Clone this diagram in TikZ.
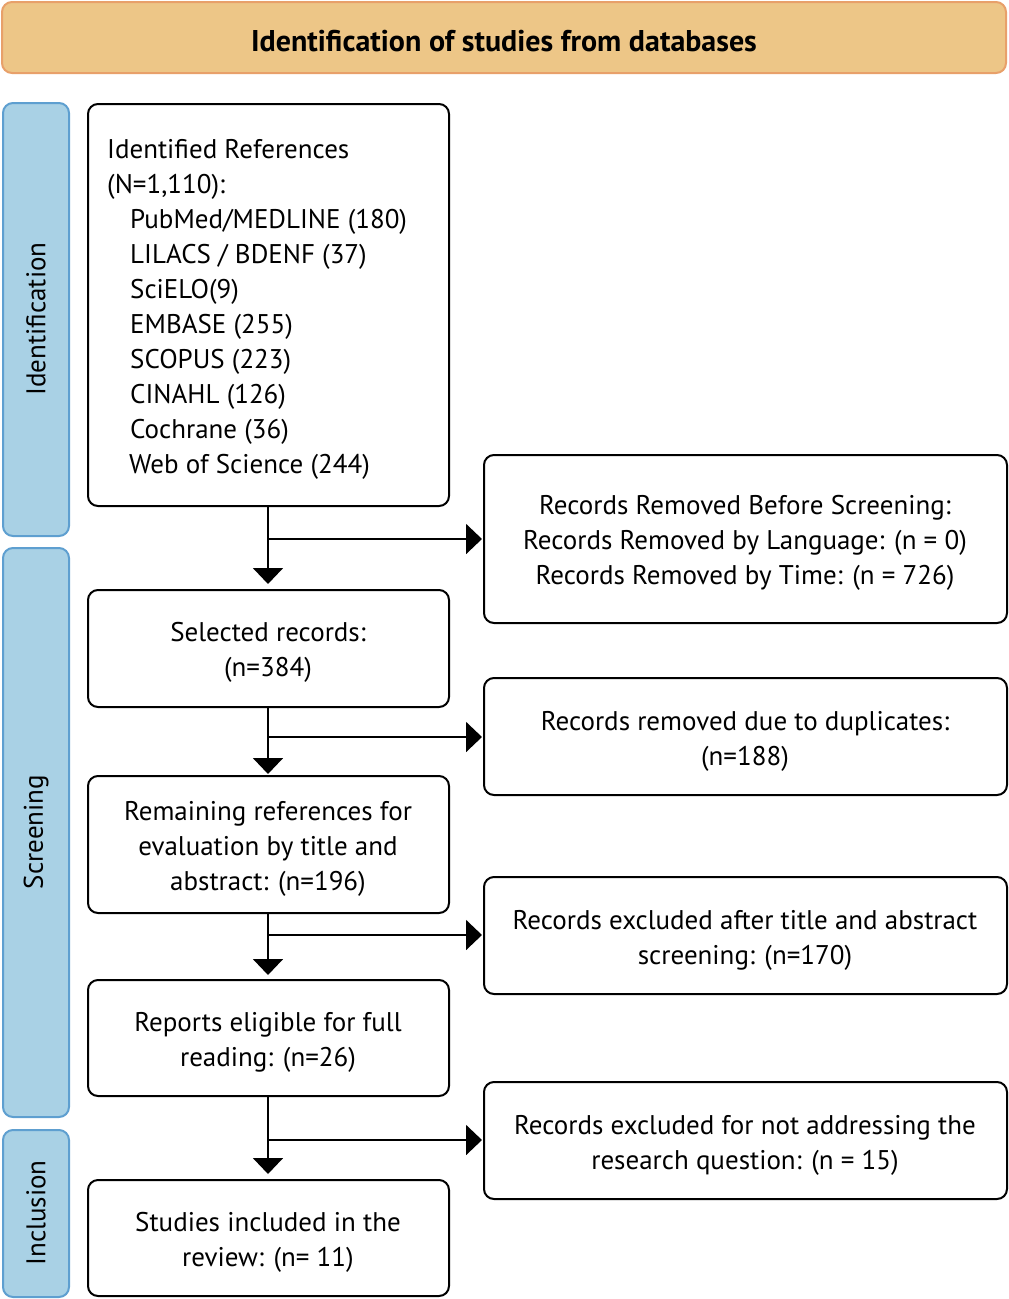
\documentclass[tikz,border=0pt]{standalone}
\usepackage{fontspec}
\setmainfont{PT Sans}
\usetikzlibrary{arrows.meta}
\definecolor{hdrfill}{HTML}{EDC687}
\definecolor{hdrline}{HTML}{E8A06A}
\definecolor{sidefill}{HTML}{A9D1E5}
\definecolor{sideline}{HTML}{5E9FD0}
\begin{document}
\begin{tikzpicture}[x=1pt,y=-1pt,
  every node/.style={font=\fontsize{27}{35}\selectfont},
  txt/.style={align=center,yshift=-4pt},
  hdr/.style={draw=hdrline,fill=hdrfill,line width=2pt,rounded corners=10pt},
  side/.style={draw=sideline,fill=sidefill,line width=2pt,rounded corners=10pt},
  boxs/.style={draw=black,line width=2pt,rounded corners=10pt},
  flow/.style={line width=2pt,-{Triangle[length=16pt,width=30pt]}}]
\useasboundingbox (0,0) rectangle (1009,1299);
% header
\draw[hdr] (2,2) rectangle (1006,73);
\node[font=\fontsize{30}{35}\selectfont\bfseries] (hdr) at (504,41) {Identification of studies from databases};
% side bars
\draw[side] (3,103) rectangle (69,536);
\node[rotate=90] (sid) at (36,319) {Identification};
\draw[side] (3,548) rectangle (69,1117);
\node[rotate=90] (sscr) at (36,832) {Screening};
\draw[side] (3,1130) rectangle (69,1297);
\node[rotate=90] (sinc) at (36,1213) {Inclusion};
% left boxes
\draw[boxs] (88,104) rectangle (449,506);
\node[anchor=north west,align=left,inner sep=0pt] (b1) at (107,139) {Identified References\\(N=1,110):\\
\hspace*{23pt}PubMed/MEDLINE (180)\\\hspace*{23pt}LILACS / BDENF (37)\\\hspace*{23pt}SciELO(9)\\\hspace*{23pt}EMBASE (255)\\\hspace*{23pt}SCOPUS (223)\\\hspace*{23pt}CINAHL (126)\\\hspace*{23pt}Cochrane (36)\\\hspace*{22pt}Web of Science (244)};
\draw[boxs] (88,590) rectangle (449,707);
\node[txt] (b2) at (268,648) {Selected records:\\(n=384)};
\draw[boxs] (88,776) rectangle (449,913);
\node[txt] (b3) at (268,845) {Remaining references for\\evaluation by title and\\abstract: (n=196)};
\draw[boxs] (88,980) rectangle (449,1096);
\node[txt] (b4) at (268,1038) {Reports eligible for full\\reading: (n=26)};
\draw[boxs] (88,1180) rectangle (449,1296);
\node[txt] (b5) at (268,1238) {Studies included in the\\review: (n= 11)};
% right boxes
\draw[boxs] (484,455) rectangle (1007,623);
\node[txt] (r1) at (745,539) {Records Removed Before Screening:\\Records Removed by Language: (n = 0)\\Records Removed by Time: (n = 726)};
\draw[boxs] (484,678) rectangle (1007,795);
\node[txt] (r2) at (745,737) {Records removed due to duplicates:\\(n=188)};
\draw[boxs] (484,877) rectangle (1007,994);
\node[txt] (r3) at (745,936) {Records excluded after title and abstract\\screening: (n=170)};
\draw[boxs] (484,1082) rectangle (1007,1199);
\node[txt] (r4) at (745,1141) {Records excluded for not addressing the\\research question: (n = 15)};
% connectors
\coordinate (t1) at (268,506); \coordinate (h1) at (268,584); \coordinate (j1) at (268,539); \coordinate (e1) at (482,539);
\draw[flow] (t1) -- (h1);
\draw[flow] (j1) -- (e1);
\coordinate (t2) at (268,707); \coordinate (h2) at (268,774); \coordinate (j2) at (268,737); \coordinate (e2) at (482,737);
\draw[flow] (t2) -- (h2);
\draw[flow] (j2) -- (e2);
\coordinate (t3) at (268,913); \coordinate (h3) at (268,975); \coordinate (j3) at (268,935); \coordinate (e3) at (482,935);
\draw[flow] (t3) -- (h3);
\draw[flow] (j3) -- (e3);
\coordinate (t4) at (268,1096); \coordinate (h4) at (268,1174); \coordinate (j4) at (268,1140); \coordinate (e4) at (482,1140);
\draw[flow] (t4) -- (h4);
\draw[flow] (j4) -- (e4);
\end{tikzpicture}
\end{document}
